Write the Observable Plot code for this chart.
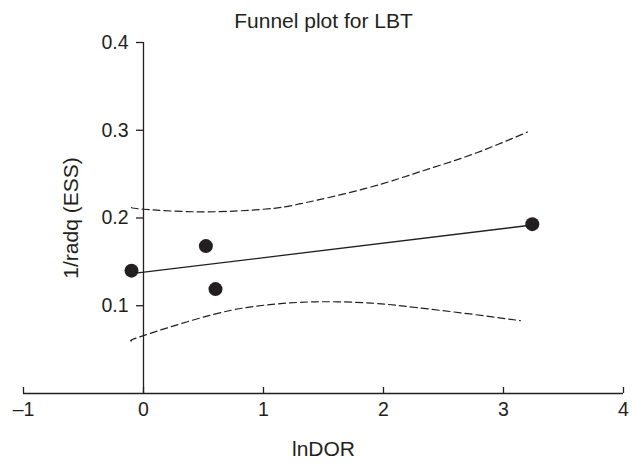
<!DOCTYPE html>
<html><head><meta charset="utf-8">
<script src="https://cdn.jsdelivr.net/npm/d3@7"></script>
<script src="https://cdn.jsdelivr.net/npm/@observablehq/plot@0.6"></script>
<style>body{margin:0;background:#fff}</style>
</head><body><div id="chart"></div>
<script>
const title = "Funnel plot for LBT";
const xLabel = "lnDOR";
const yLabel = "1/radq (ESS)";
const xTicks = [-1, 0, 1, 2, 3, 4];
const yTicks = [0.1, 0.2, 0.3, 0.4];

// studies
const studyX = [-0.10, 0.52, 0.60, 3.24];
const studyY = [0.140, 0.168, 0.119, 0.193];
// regression line
const regX = [-0.10, 3.24];
const regY = [0.1365, 0.192];
// funnel limits
const upperX = [-0.10, 0.00, 0.50, 1.00, 1.30, 1.86, 2.31, 2.75, 3.20];
const upperY = [0.212, 0.210, 0.207, 0.210, 0.216, 0.234, 0.253, 0.273, 0.298];
const lowerX = [-0.10, 0.00, 0.58, 1.03, 1.44, 1.90, 2.27, 2.70, 3.14];
const lowerY = [0.060, 0.066, 0.090, 0.101, 0.1045, 0.103, 0.098, 0.091, 0.083];

const ink = "#231f20";
const font = "'Liberation Sans', Arial, sans-serif";

const studies = studyX.map((x, i) => ({x, y: studyY[i]}));
const reg = regX.map((x, i) => ({x, y: regY[i]}));
const upper = upperX.map((x, i) => ({x, y: upperY[i]}));
const lower = lowerX.map((x, i) => ({x, y: lowerY[i]}));

const chart = Plot.plot({
  width: 632,
  height: 467,
  marginLeft: 23,
  marginRight: 9,
  marginTop: 42,
  marginBottom: 74,
  style: {fontFamily: font, fontSize: "19px", color: ink, background: "#fff"},
  x: {domain: [-1, 4]},
  y: {domain: [0, 0.4], axis: null},
  marks: [
    // x axis line and inward ticks
    Plot.ruleY([0], {stroke: ink, strokeWidth: 1.3}),
    Plot.ruleX(xTicks, {y1: 0, y2: 0, insetTop: -6, stroke: ink, strokeWidth: 1.3}),
    Plot.axisX(xTicks, {tickSize: 0, tickPadding: 9, fontSize: 19.5, label: null,
      tickFormat: d => d < 0 ? "\u2013" + (-d) : String(d)}),
    // y axis at x = 0
    Plot.ruleX([0], {y1: 0, y2: 0.4, stroke: ink, strokeWidth: 1.3}),
    Plot.ruleY(yTicks, {x1: 0, x2: 0, insetLeft: -7, stroke: ink, strokeWidth: 1.3}),
    Plot.text(yTicks, {x: 0, y: d => d, dx: -15, textAnchor: "end", fontSize: 19.5,
      text: d => d.toFixed(1), fill: ink}),
    // funnel
    Plot.line(upper, {x: "x", y: "y", curve: "natural", stroke: ink, strokeWidth: 1.2, strokeDasharray: "7,4"}),
    Plot.line(lower, {x: "x", y: "y", curve: "natural", stroke: ink, strokeWidth: 1.2, strokeDasharray: "7,4"}),
    Plot.line(reg, {x: "x", y: "y", stroke: ink, strokeWidth: 1.3}),
    Plot.dot(studies, {x: "x", y: "y", r: 7, fill: ink, stroke: "none"}),
    // labels
    Plot.text([title], {frameAnchor: "top", dy: -21, lineAnchor: "middle", textAnchor: "middle", fontSize: 21, fill: ink}),
    Plot.text([xLabel], {frameAnchor: "bottom", dy: 56, lineAnchor: "middle", textAnchor: "middle", fontSize: 21, fill: ink}),
    Plot.text([yLabel], {frameAnchor: "left", dx: 48, rotate: -90, lineAnchor: "middle", textAnchor: "middle", fontSize: 21, fill: ink})
  ]
});
document.getElementById("chart").append(chart);
</script>
</body></html>
